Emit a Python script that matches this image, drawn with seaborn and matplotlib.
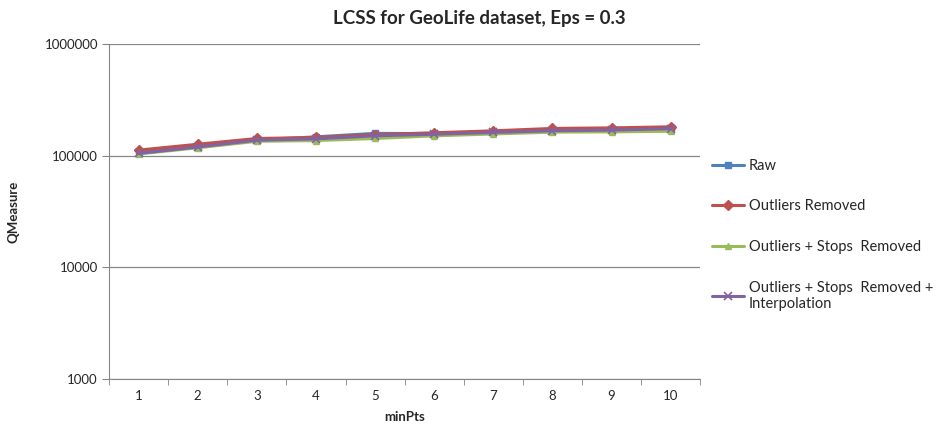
import matplotlib
matplotlib.use("Agg")
import matplotlib.pyplot as plt
import seaborn as sns
import pandas as pd
import numpy as np
from matplotlib.ticker import FixedLocator, FixedFormatter

min_pts = [1, 2, 3, 4, 5, 6, 7, 8, 9, 10]
raw = [107000, 121000, 139000, 148000, 159000, 158000, 164000, 170000, 172000, 176000]
outliers_removed = [112500, 127000, 143000, 146000, 155000, 161000, 167500, 176000, 178000, 182000]
outliers_stops_removed = [104000, 118000, 135000, 137000, 143000, 151000, 157000, 163000, 164000, 166000]
outliers_stops_interp = [105000, 120000, 138000, 142000, 151000, 156000, 162000, 168000, 170000, 175000]

series_names = ["Raw", "Outliers Removed", "Outliers + Stops  Removed",
                "Outliers + Stops  Removed +\nInterpolation"]
colors = ["#4F81BD", "#C0504D", "#9BBB59", "#8064A2"]
marker_list = ["s", "D", "^", "x"]

df = pd.DataFrame({
    "minPts": min_pts * 4,
    "QMeasure": raw + outliers_removed + outliers_stops_removed + outliers_stops_interp,
    "series": sum([[n] * len(min_pts) for n in series_names], []),
})

sns.set_style("white")
plt.rcParams['font.family'] = ['Lato', 'DejaVu Sans']

fig = plt.figure(figsize=(9.4, 4.25), dpi=100)
ax = fig.add_axes([0.116, 0.108, 0.629, 0.788])

for name, col, mk in zip(series_names, colors, marker_list):
    sub = df[df["series"] == name]
    sns.lineplot(data=sub, x="minPts", y="QMeasure", color=col, marker=mk,
                 linewidth=2.2, markersize=5 if mk != "x" else 6,
                 markeredgewidth=1 if mk != "x" else 1.2,
                 markeredgecolor=col, label=name, ax=ax)

ax.set_yscale("log")
ax.set_ylim(1000, 1000000)
ax.set_xlim(0.5, 10.5)
ax.yaxis.set_major_locator(FixedLocator([1000, 10000, 100000, 1000000]))
ax.yaxis.set_major_formatter(FixedFormatter(["1000", "10000", "100000", "1000000"]))
ax.yaxis.set_minor_locator(FixedLocator([]))
ax.set_xticks(min_pts)
ax.set_xticklabels([str(v) for v in min_pts])
ax.xaxis.set_minor_locator(FixedLocator(np.arange(0.5, 11, 1.0)))
ax.tick_params(axis="x", which="major", length=0, pad=8, labelsize=9.5)
ax.tick_params(axis="x", which="minor", length=4, color="#868686", bottom=True)
ax.tick_params(axis="y", which="major", length=5, color="#868686", left=True, labelsize=9.5, pad=3)
ax.grid(axis="y", color="#868686", linewidth=0.9)
ax.set_axisbelow(True)
for s in ["top", "right"]:
    ax.spines[s].set_visible(False)
ax.spines["left"].set_color("#868686")
ax.spines["bottom"].set_color("#868686")

ax.set_xlabel("minPts", fontsize=9.5, fontweight="bold", labelpad=6)
ax.set_ylabel("QMeasure", fontsize=9.5, fontweight="bold", labelpad=18)
fig.text(0.51, 0.957, "LCSS for GeoLife dataset, Eps = 0.3", ha="center", va="center",
         fontsize=13.5, fontweight="bold")

handles, labels = ax.get_legend_handles_labels()
ax.legend(handles, labels, loc="upper left", bbox_to_anchor=(1.01, 0.675),
          frameon=False, fontsize=10.5, labelspacing=1.82, handlelength=2.2,
          handletextpad=0.3, borderaxespad=0)

fig.savefig("out.png", dpi=100)
